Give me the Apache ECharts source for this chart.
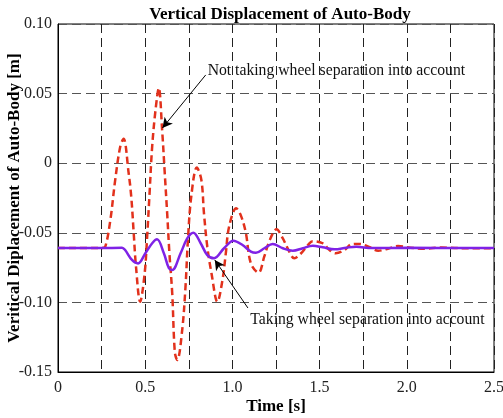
<!DOCTYPE html>
<html>
<head>
<meta charset="utf-8">
<script src="https://cdn.jsdelivr.net/npm/echarts@6/dist/echarts.min.js"></script>
<style>
html,body{margin:0;padding:0;background:#fff;}
#c{width:503px;height:418px;}
</style>
</head>
<body>
<div id="c"></div>
<script>
// ---- data ----
var xTicks = [0, 0.5, 1.0, 1.5, 2.0, 2.5];
var yTicks = [-0.15, -0.10, -0.05, 0, 0.05, 0.10];

// Not taking wheel separation into account (red dashed)
var redT = [0, 0.25, 0.271, 0.300, 0.328, 0.357, 0.376, 0.405, 0.420, 0.434, 0.447, 0.471,
            0.497, 0.511, 0.524, 0.540, 0.559, 0.578, 0.597, 0.612, 0.626, 0.639, 0.655, 0.670, 0.684,
            0.712, 0.731, 0.745, 0.764, 0.796, 0.822, 0.837, 0.856, 0.880, 0.914,
            0.943, 0.962, 0.981, 1.022, 1.050, 1.077, 1.106, 1.150, 1.183, 1.215, 1.253,
            1.289, 1.317, 1.355, 1.394, 1.433, 1.461, 1.518, 1.557, 1.592, 1.643, 1.682, 1.730,
            1.787, 1.836, 1.900, 1.950, 2.020, 2.100, 2.200, 2.350, 2.500];
var redY = [-0.061, -0.061, -0.060, -0.041, -0.012, 0.012, 0.0175, -0.007, -0.024, -0.050, -0.074, -0.0995,
            -0.079, -0.053, -0.024, 0.012, 0.038, 0.054, 0.024, -0.007, -0.036, -0.065, -0.0935, -0.136, -0.1414,
            -0.120, -0.089, -0.055, -0.024, -0.003, -0.012, -0.036, -0.060, -0.079, -0.0995,
            -0.084, -0.065, -0.0456, -0.0324, -0.038, -0.050, -0.072, -0.0786, -0.067, -0.055, -0.0475,
            -0.054, -0.0611, -0.0683, -0.0647, -0.0588, -0.056, -0.0575, -0.0624, -0.0647, -0.0624, -0.0583, -0.058,
            -0.0604, -0.0629, -0.0611, -0.0595, -0.0607, -0.0614, -0.0606, -0.0611, -0.061];

// Taking wheel separation into account (purple solid)
var purT = [0, 0.25, 0.367, 0.385, 0.424, 0.459, 0.501, 0.540, 0.568, 0.607, 0.636, 0.655,
            0.703, 0.741, 0.776, 0.818, 0.856, 0.895, 0.952, 1.006, 1.058, 1.106, 1.135,
            1.183, 1.231, 1.289, 1.346, 1.404, 1.461, 1.518, 1.586, 1.653, 1.710, 1.800, 2.000, 2.500];
var purY = [-0.061, -0.061, -0.0607, -0.0624, -0.0695, -0.072, -0.0647, -0.0575, -0.0547, -0.0647, -0.0755, -0.0767,
            -0.0647, -0.054, -0.0499, -0.0575, -0.066, -0.0683, -0.0611, -0.0557, -0.0588, -0.0635, -0.0643,
            -0.0611, -0.058, -0.0611, -0.0629, -0.0611, -0.0593, -0.0604, -0.0619, -0.0607, -0.0600, -0.0610, -0.0608, -0.061];

var labelRed = 'Not taking wheel separation into account';
var labelPur = 'Taking wheel separation into account';
var arrowRed = [[0.847, 0.0634], [0.599, 0.0253]];
var arrowPur = [[1.089, -0.104], [0.899, -0.0695]];
var textRedPos = [0.858, 0.0665];
var textPurPos = [1.103, -0.1126];

function zip(a, b) { return a.map(function (v, i) { return [v, b[i]]; }); }

var FONT = '"Liberation Serif", "Times New Roman", serif';
var chart = echarts.init(document.getElementById('c'), null, {renderer: 'canvas'});

var option = {
  animation: false,
  backgroundColor: '#fff',
  title: {
    text: 'Vertical Displacement of Auto-Body',
    left: 275, top: 1, textAlign: 'center',
    textStyle: {fontFamily: FONT, fontWeight: 'bold', fontSize: 17, color: '#000'}
  },
  grid: {left: 58, right: 9, top: 24, bottom: 46, show: true, borderColor: '#000', borderWidth: 1,
         containLabel: false, outerBoundsMode: 'none'},
  xAxis: {
    type: 'value', min: 0, max: 2.5, interval: 0.25,
    name: 'Time [s]', nameLocation: 'middle', nameGap: 26, nameMoveOverlap: false,
    nameTextStyle: {fontFamily: FONT, fontWeight: 'bold', fontSize: 17, color: '#000'},
    axisLine: {show: true, onZero: false, lineStyle: {color: '#000', width: 1}},
    axisTick: {show: false},
    axisLabel: {
      fontFamily: FONT, fontSize: 16, color: '#222', margin: 8,
      formatter: function (v) {
        for (var i = 0; i < xTicks.length; i++) {
          if (Math.abs(v - xTicks[i]) < 1e-9) return v === 0 ? '0' : v.toFixed(1);
        }
        return '';
      }
    },
    splitLine: {show: true, lineStyle: {color: '#222', type: [9, 5], width: 1}}
  },
  yAxis: {
    type: 'value', min: -0.15, max: 0.10, interval: 0.05,
    name: 'Veritical Diplacement of Auto-Body [m]', nameLocation: 'middle', nameGap: 35, nameMoveOverlap: false,
    nameTextStyle: {fontFamily: FONT, fontWeight: 'bold', fontSize: 17, color: '#000'},
    axisLine: {show: true, onZero: false, lineStyle: {color: '#000', width: 1}},
    axisTick: {show: false},
    axisLabel: {
      fontFamily: FONT, fontSize: 16, color: '#222', margin: 6,
      formatter: function (v) { return Math.abs(v) < 1e-9 ? '0' : v.toFixed(2); }
    },
    splitLine: {show: true, lineStyle: {color: '#555', type: [9, 5], width: 1}}
  },
  series: [
    {
      name: labelRed, type: 'line', data: zip(redT, redY), smooth: 0.35, showSymbol: false, z: 3,
      lineStyle: {color: '#e2311c', width: 2.5, type: [7, 4]},
      markLine: {
        silent: true, animation: false, symbolSize: [8, 10],
        lineStyle: {color: '#000', width: 1, type: 'solid'},
        label: {show: false},
        data: [
          [{coord: arrowRed[0], symbol: 'none'}, {coord: arrowRed[1], symbol: 'arrow'}],
          [{coord: arrowPur[0], symbol: 'none'}, {coord: arrowPur[1], symbol: 'arrow'}]
        ]
      },
      markPoint: {
        silent: true, symbol: 'circle', symbolSize: 0,
        label: {show: true, fontFamily: FONT, fontSize: 15.7, color: '#111', position: 'right', distance: 0},
        data: [
          {coord: textRedPos, value: labelRed, label: {formatter: labelRed}},
          {coord: textPurPos, value: labelPur, label: {formatter: labelPur}}
        ]
      }
    },
    {
      name: labelPur, type: 'line', data: zip(purT, purY), smooth: 0.35, showSymbol: false, z: 4,
      lineStyle: {color: '#7f22e6', width: 2.5}
    }
  ]
};
chart.setOption(option);
</script>
</body>
</html>
